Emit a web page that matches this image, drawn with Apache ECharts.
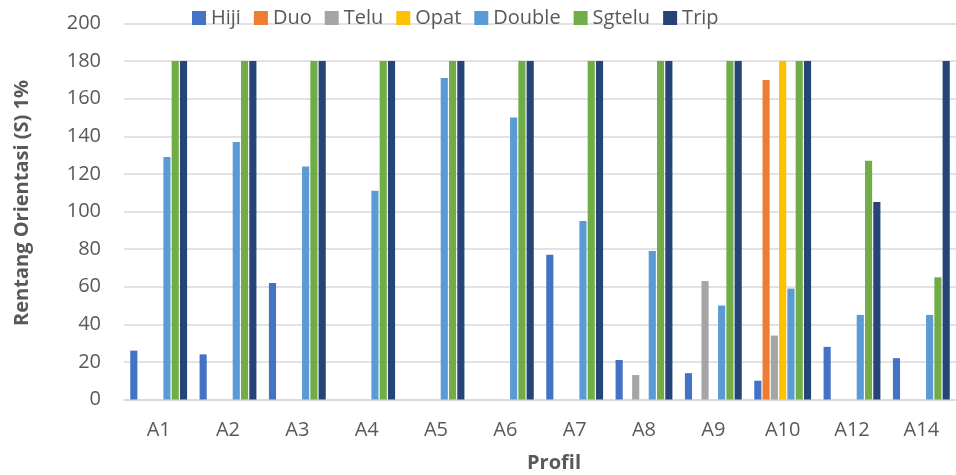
<!DOCTYPE html>
<html>
<head>
<meta charset="utf-8">
<script src="https://cdn.jsdelivr.net/npm/echarts@6/dist/echarts.min.js"></script>
<style>
  html, body { margin: 0; padding: 0; background: #fff; }
  #chart { width: 956px; height: 475px; }
</style>
</head>
<body>
<div id="chart"></div>
<script>
// Profile categories and orientation-range values per group
const categories = ['A1', 'A2', 'A3', 'A4', 'A5', 'A6', 'A7', 'A8', 'A9', 'A10', 'A12', 'A14'];
const hiji   = [26, 24, 62, null, null, null, 77, 21, 14, 10, 28, 22];
const duo    = [null, null, null, null, null, null, null, null, null, 170, null, null];
const telu   = [null, null, null, null, null, null, null, 13, 63, 34, null, null];
const opat   = [null, null, null, null, null, null, null, null, null, 180, null, null];
const double = [129, 137, 124, 111, 171, 150, 95, 79, 50, 59, 45, 45];
const sgtelu = [180, 180, 180, 180, 180, 180, 180, 180, 180, 180, 127, 65];
const trip   = [180, 180, 180, 180, 180, 180, 180, 180, 180, 180, 105, 180];
const yTicks = [0, 20, 40, 60, 80, 100, 120, 140, 160, 180, 200];

const seriesDefs = [
  { name: 'Hiji',   data: hiji,   color: '#4472C4' },
  { name: 'Duo',    data: duo,    color: '#ED7D31' },
  { name: 'Telu',   data: telu,   color: '#A5A5A5' },
  { name: 'Opat',   data: opat,   color: '#FFC000' },
  { name: 'Double', data: double, color: '#5B9BD5' },
  { name: 'Sgtelu', data: sgtelu, color: '#70AD47' },
  { name: 'Trip',   data: trip,   color: '#264478' }
];

const font = '"Open Sans", "Noto Sans", sans-serif';
const textColor = '#595959';
const chart = echarts.init(document.getElementById('chart'), null, { renderer: 'canvas' });

chart.setOption({
  animation: false,
  backgroundColor: '#ffffff',
  textStyle: { fontFamily: font },
  legend: {
    top: 8,
    left: 192,
    padding: 0,
    itemWidth: 14,
    itemHeight: 14,
    itemGap: 13,
    icon: 'rect',
    textStyle: { fontSize: 20, color: textColor, fontFamily: font },
    data: seriesDefs.map(s => s.name)
  },
  grid: { left: 124, top: 23.5, height: 376, width: 843.6, containLabel: false },
  xAxis: {
    type: 'category',
    data: categories,
    axisLine: { show: true, lineStyle: { color: '#d9d9d9', width: 1.5 } },
    axisTick: { show: false },
    axisLabel: { fontSize: 20, color: textColor, margin: 21, fontFamily: font }
  },
  yAxis: {
    type: 'value',
    min: yTicks[0],
    max: yTicks[yTicks.length - 1],
    interval: 20,
    axisLine: { show: false },
    axisTick: { show: false },
    axisLabel: { fontSize: 20, color: textColor, margin: 23, fontFamily: font },
    splitLine: { lineStyle: { color: '#d9d9d9', width: 1.5 } }
  },
  graphic: [
    {
      type: 'text',
      x: 22,
      y: 203,
      rotation: Math.PI / 2,
      style: {
        text: 'Rentang Orientasi (S) 1%',
        font: 'bold 20px ' + font,
        fill: textColor,
        align: 'center',
        verticalAlign: 'middle'
      }
    },
    {
      type: 'text',
      x: 554,
      y: 463,
      style: {
        text: 'Profil',
        font: 'bold 20px ' + font,
        fill: textColor,
        align: 'center',
        verticalAlign: 'middle'
      }
    }
  ],
  series: seriesDefs.map(s => ({
    name: s.name,
    type: 'bar',
    data: s.data,
    barGap: '16%',
    barCategoryGap: '18%',
    itemStyle: { color: s.color }
  }))
});
</script>
</body>
</html>
